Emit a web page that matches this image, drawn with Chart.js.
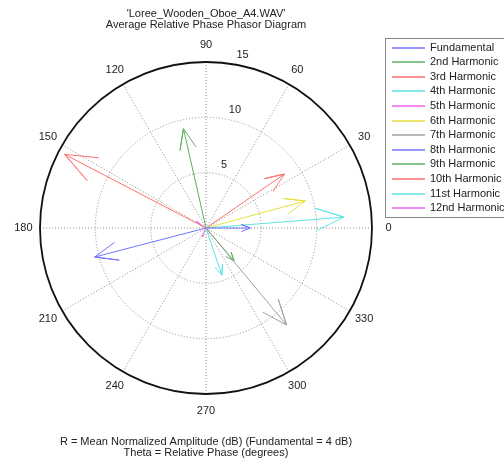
<!DOCTYPE html>
<html>
<head>
<meta charset="utf-8">
<script src="https://cdn.jsdelivr.net/npm/chart.js@4"></script>
<style>
  html, body { margin: 0; padding: 0; background: #fff; }
  canvas { display: block; }
</style>
</head>
<body>
<canvas id="c" width="504" height="464"></canvas>
<script>
const labels = ['Fundamental', '2nd Harmonic', '3rd Harmonic', '4th Harmonic', '5th Harmonic', '6th Harmonic',
  '7th Harmonic', '8th Harmonic', '9th Harmonic', '10th Harmonic', '11st Harmonic', '12nd Harmonic'];
const amplitudes = [4, 9.2, 14.4, 12.5, 1.0, 9.3, 11.4, 10.4, 3.9, 8.6, 4.5, 0.85];   // dB
const phases = [0, 102.8, 152.5, 4.5, 146, 15.2, 309.7, 194.6, 310.5, 34.5, 288.6, 247]; // degrees
const colors = ['#7373ff', '#5fb05f', '#ff7070', '#5fe3e3', '#f060f0', '#e6e03c',
  '#a0a0a0', '#7373ff', '#5fb05f', '#ff7070', '#5fe3e3', '#f060f0'];
const angleTicks = [0, 30, 60, 90, 120, 150, 180, 210, 240, 270, 300, 330];
const radialTicks = [5, 10, 15];
const rMax = 15;
const titleLines = ["'Loree_Wooden_Oboe_A4.WAV'", 'Average Relative Phase Phasor Diagram'];
const footLines = ['R = Mean Normalized Amplitude (dB) (Fundamental = 4 dB)', 'Theta = Relative Phase (degrees)'];

const FONT = '11px "Liberation Sans", Arial, sans-serif';
// compass arrow shape (unit length along x), same as matlab compass
const shape = [[0, 0], [1, 0], [0.8, 0.08], [1, 0], [0.8, -0.08]];

function arrow(r, deg) {
  const t = deg * Math.PI / 180, c = Math.cos(t), s = Math.sin(t);
  return shape.map(([u, v]) => ({ x: r * (u * c - v * s), y: r * (u * s + v * c) }));
}

const polarGrid = {
  id: 'polarGrid',
  beforeDatasetsDraw(chart) {
    const { ctx, scales: { x, y } } = chart;
    const cx = x.getPixelForValue(0), cy = y.getPixelForValue(0);
    const px = v => x.getPixelForValue(v) - cx;
    ctx.save();
    ctx.strokeStyle = '#8c8c8c';
    ctx.lineWidth = 1;
    ctx.setLineDash([1, 2]);
    radialTicks.slice(0, -1).forEach(r => {
      ctx.beginPath(); ctx.arc(cx, cy, px(r), 0, Math.PI * 2); ctx.stroke();
    });
    angleTicks.forEach(a => {
      const t = a * Math.PI / 180;
      ctx.beginPath();
      ctx.moveTo(cx, cy);
      ctx.lineTo(x.getPixelForValue(rMax * Math.cos(t)), y.getPixelForValue(rMax * Math.sin(t)));
      ctx.stroke();
    });
    ctx.setLineDash([]);
    ctx.strokeStyle = '#111';
    ctx.lineWidth = 1.8;
    ctx.beginPath(); ctx.arc(cx, cy, px(rMax), 0, Math.PI * 2); ctx.stroke();

    ctx.fillStyle = '#222';
    ctx.font = FONT;
    ctx.textAlign = 'center';
    ctx.textBaseline = 'middle';
    angleTicks.forEach(a => {
      const t = a * Math.PI / 180;
      ctx.fillText(String(a), x.getPixelForValue(1.1 * rMax * Math.cos(t)), y.getPixelForValue(1.1 * rMax * Math.sin(t)));
    });
    const t82 = 82 * Math.PI / 180;
    ctx.textAlign = 'left';
    ctx.textBaseline = 'bottom';
    radialTicks.forEach(r => {
      ctx.fillText(String(r), x.getPixelForValue((r + 0.25) * Math.cos(t82)) + 7, y.getPixelForValue((r + 0.25) * Math.sin(t82)));
    });
    ctx.restore();
  },
  afterDraw(chart) {
    const { ctx } = chart;
    ctx.save();
    ctx.font = FONT;
    ctx.fillStyle = '#222';
    ctx.textAlign = 'center';
    ctx.textBaseline = 'middle';
    titleLines.forEach((t, i) => ctx.fillText(t, 206, 13.5 + i * 11));
    footLines.forEach((t, i) => ctx.fillText(t, 206, 441.5 + i * 11.5));

    // legend box
    ctx.strokeStyle = '#888';
    ctx.lineWidth = 1;
    ctx.strokeRect(385.5, 38.5, 140, 179);
    ctx.textAlign = 'left';
    chart.data.datasets.forEach((ds, i) => {
      const yy = Math.round(47.5 + i * 14.6);
      ctx.strokeStyle = ds.borderColor;
      ctx.lineWidth = 1.3;
      ctx.beginPath(); ctx.moveTo(392, yy); ctx.lineTo(425, yy); ctx.stroke();
      ctx.fillText(ds.label, 430, yy);
    });
    ctx.restore();
  }
};

new Chart(document.getElementById('c'), {
  type: 'scatter',
  data: {
    datasets: labels.map((l, i) => ({
      label: l,
      data: arrow(amplitudes[i], phases[i]),
      showLine: true,
      borderColor: colors[i],
      borderWidth: 1,
      pointRadius: 0,
      fill: false,
      clip: false
    }))
  },
  options: {
    responsive: false,
    animation: false,
    devicePixelRatio: 1,
    layout: { padding: { left: 40, right: 132, top: 62, bottom: 70 } },
    scales: {
      x: { type: 'linear', min: -rMax, max: rMax, display: false },
      y: { type: 'linear', min: -rMax, max: rMax, display: false }
    },
    plugins: { legend: { display: false }, tooltip: { enabled: false } }
  },
  plugins: [polarGrid]
});
</script>
</body>
</html>
